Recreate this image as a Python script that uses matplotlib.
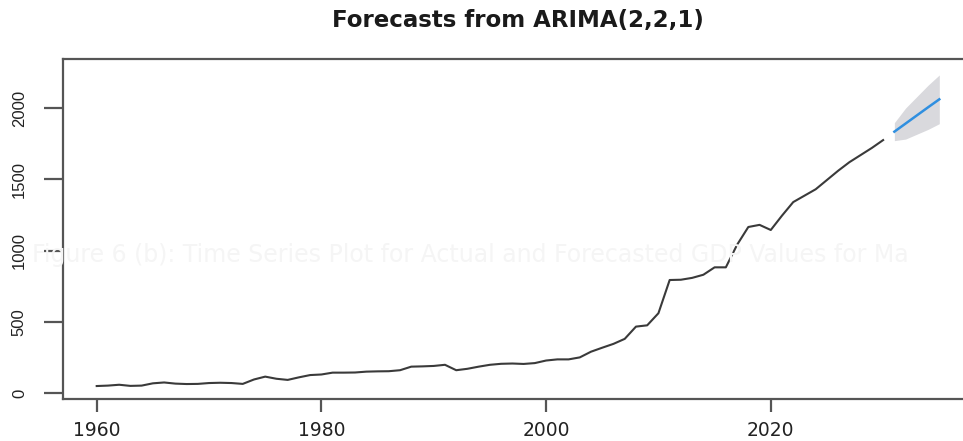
import matplotlib
matplotlib.use("Agg")
import matplotlib.pyplot as plt
import numpy as np

# ---- data ----
years = list(range(1960, 2031))
values = [49, 52, 58, 50, 52, 68, 74, 66, 63, 64,
          70, 72, 70, 64, 95, 115, 100, 92, 110, 126,
          130, 143, 143, 144, 150, 152, 153, 160, 185, 187,
          190, 198, 160, 170, 185, 198, 205, 207, 204, 210,
          228, 236, 236, 250, 290, 318, 345, 380, 466, 475,
          560, 793, 795, 808, 830, 882, 882, 1040, 1165, 1180,
          1144, 1245, 1340, 1385, 1430, 1495, 1560, 1620, 1670, 1720,
          1775]
fc_years = [2031, 2032, 2033, 2034, 2035]
fc_mean = [1834, 1891, 1948, 2005, 2061]
fc_upper = [1897, 2000, 2080, 2160, 2232]
fc_lower = [1771, 1782, 1816, 1850, 1890]
title = "Forecasts from ARIMA(2,2,1)"
xticks = [1960, 1980, 2000, 2020]
yticks = [0, 500, 1000, 1500, 2000]
watermark = "Figure 6 (b): Time Series Plot for Actual and Forecasted GDP Values for Ma"

W, H = 963, 441
fig = plt.figure(figsize=(W / 100, H / 100), dpi=100)
fig.patch.set_facecolor("white")

# faint bleed-through text
fig.text(32 / W, 1 - 255 / H, watermark, color="#f5f5f5", fontsize=17,
         family="DejaVu Sans", ha="left", va="center", zorder=0)

ax = fig.add_axes([63 / W, 1 - 399 / H, (973 - 63) / W, (399 - 59) / H])
ax.patch.set_alpha(0)

ax.fill_between(fc_years, fc_lower, fc_upper, color="#d9d9dd", linewidth=0)
ax.plot(years, values, color="#3a3a3a", linewidth=1.5)
ax.plot(fc_years, fc_mean, color="#2f8fe0", linewidth=1.8)

ax.set_xlim(1957, 2038)
ax.set_ylim(-42, 2344)

for s in ["top", "bottom", "left", "right"]:
    ax.spines[s].set_color("#555555")
    ax.spines[s].set_linewidth(1.6)

ax.set_xticks(xticks)
ax.set_xticklabels([str(t) for t in xticks], fontsize=13.5, family="DejaVu Sans",
                   color="#222222")
ax.set_yticks(yticks)
ax.set_yticklabels([str(t) for t in yticks], fontsize=12, family="Liberation Sans",
                   color="#222222", rotation=90, va="center")
ax.tick_params(axis="x", direction="out", length=9, width=1.6, color="#555555", pad=7)
ax.tick_params(axis="y", direction="out", length=14, width=1.6, color="#555555", pad=12)

fig.text(518 / W, 1 - 20 / H, title, ha="center", va="center",
         fontsize=16.5, fontweight="bold", family="DejaVu Sans", color="#1a1a1a")

fig.savefig("out.png", dpi=100, facecolor="white")
